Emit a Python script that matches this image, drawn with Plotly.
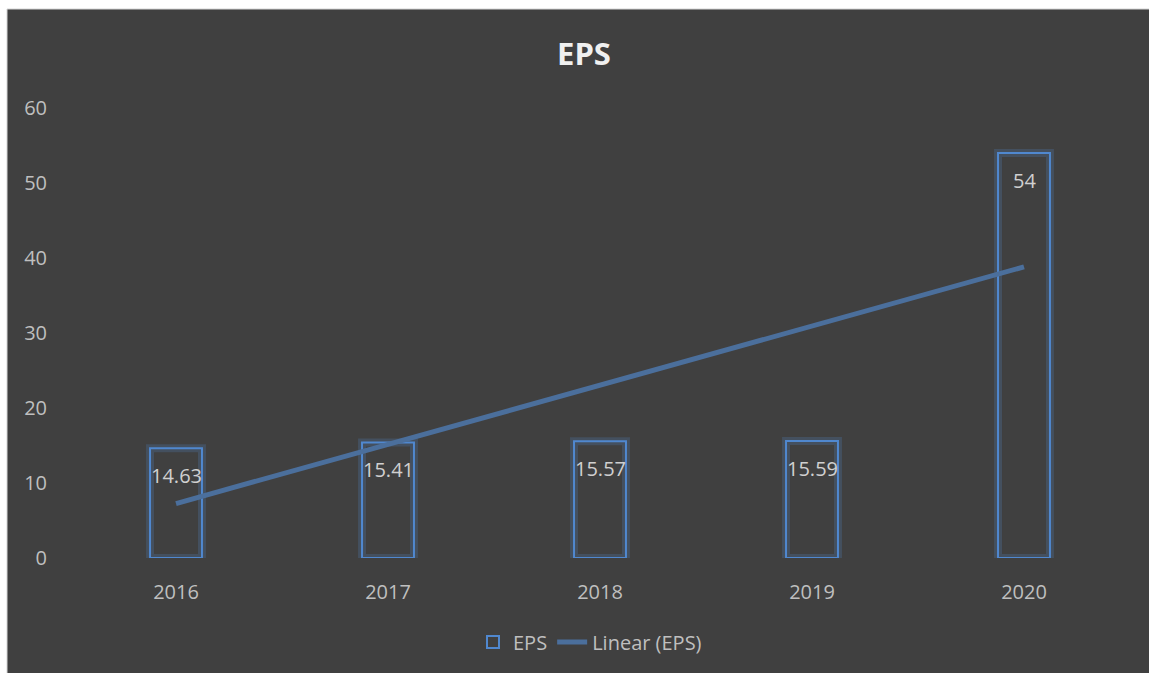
import plotly.graph_objects as go

years = ["2016", "2017", "2018", "2019", "2020"]
eps = [14.63, 15.41, 15.57, 15.59, 54]
eps_labels = ["14.63", "15.41", "15.57", "15.59", "54"]
trend = [7.26, 15.15, 23.04, 30.93, 38.82]  # Linear (EPS) trendline as read
y_ticks = [0, 10, 20, 30, 40, 50, 60]

BG = "#404040"
TXT = "#bfbfbf"
BLUE = "#5088cf"
FONT = "Open Sans, DejaVu Sans, sans-serif"

fig = go.Figure()

# soft glow behind bars
fig.add_trace(go.Bar(
    x=years, y=eps, width=0.245,
    marker=dict(color="rgba(0,0,0,0)", line=dict(color="rgba(80,136,207,0.22)", width=8)),
    showlegend=False, hoverinfo="skip",
))
# trend line
fig.add_trace(go.Scatter(
    x=years, y=trend, mode="lines", name="Linear (EPS)",
    line=dict(color="#4b6f9c", width=5),
))
# outlined bars
fig.add_trace(go.Bar(
    x=years, y=eps, width=0.245, name="EPS",
    marker=dict(color="rgba(0,0,0,0)", line=dict(color=BLUE, width=2)),
))

# data labels, inside end of each bar (x given as category index)
annotations = [
    dict(x=i, y=yv, text=lab, showarrow=False, xref="x", yref="y",
         yanchor="top", yshift=-12,
         font=dict(color="#d0d0d0", size=20, family=FONT))
    for i, (yv, lab) in enumerate(zip(eps, eps_labels))
]

W, H = 1149, 673
ml, mr, mt, mb = 70, 19, 108, 115
pw, ph = W - ml - mr, H - mt - mb

fig.update_layout(
    width=W, height=H,
    margin=dict(l=ml, r=mr, t=mt, b=mb, pad=0),
    paper_bgcolor="white",
    plot_bgcolor=BG,
    barmode="overlay",
    font=dict(family=FONT, color=TXT, size=20),
    title=dict(text="<b>EPS</b>", x=(584 - ml) / pw, xref="paper", xanchor="center",
               y=(H - 54) / H, yanchor="middle",
               font=dict(size=31, color="#f0f0f0", family=FONT)),
    xaxis=dict(type="category", showgrid=False, zeroline=False, showline=False, ticks="",
               range=[-0.5, 4.5], ticklabelstandoff=20,
               tickfont=dict(size=20, color=TXT)),
    yaxis=dict(showgrid=False, zeroline=False, showline=False, ticks="",
               range=[0, 60], tickvals=y_ticks, ticklabelstandoff=22,
               tickfont=dict(size=20, color=TXT)),
    legend=dict(orientation="h", x=(590 - ml) / pw, xanchor="center",
                y=(558 - 642) / ph, yanchor="middle",
                bgcolor="rgba(0,0,0,0)", font=dict(size=20, color=TXT),
                traceorder="reversed"),
    showlegend=True,
    annotations=annotations,
    shapes=[dict(type="rect", xref="paper", yref="paper", layer="below",
                 x0=(7 - ml) / pw, x1=(W + 3 - ml) / pw,
                 y0=(558 - (H + 3)) / ph, y1=(558 - 9) / ph,
                 fillcolor=BG, line=dict(color="#d4d4d4", width=1))],
)

fig.write_html("out.html",
               config={"displayModeBar": False},
               post_script="document.documentElement.style.overflow='hidden';"
                           "document.body.style.overflow='hidden';"
                           "document.body.style.margin='0';")
